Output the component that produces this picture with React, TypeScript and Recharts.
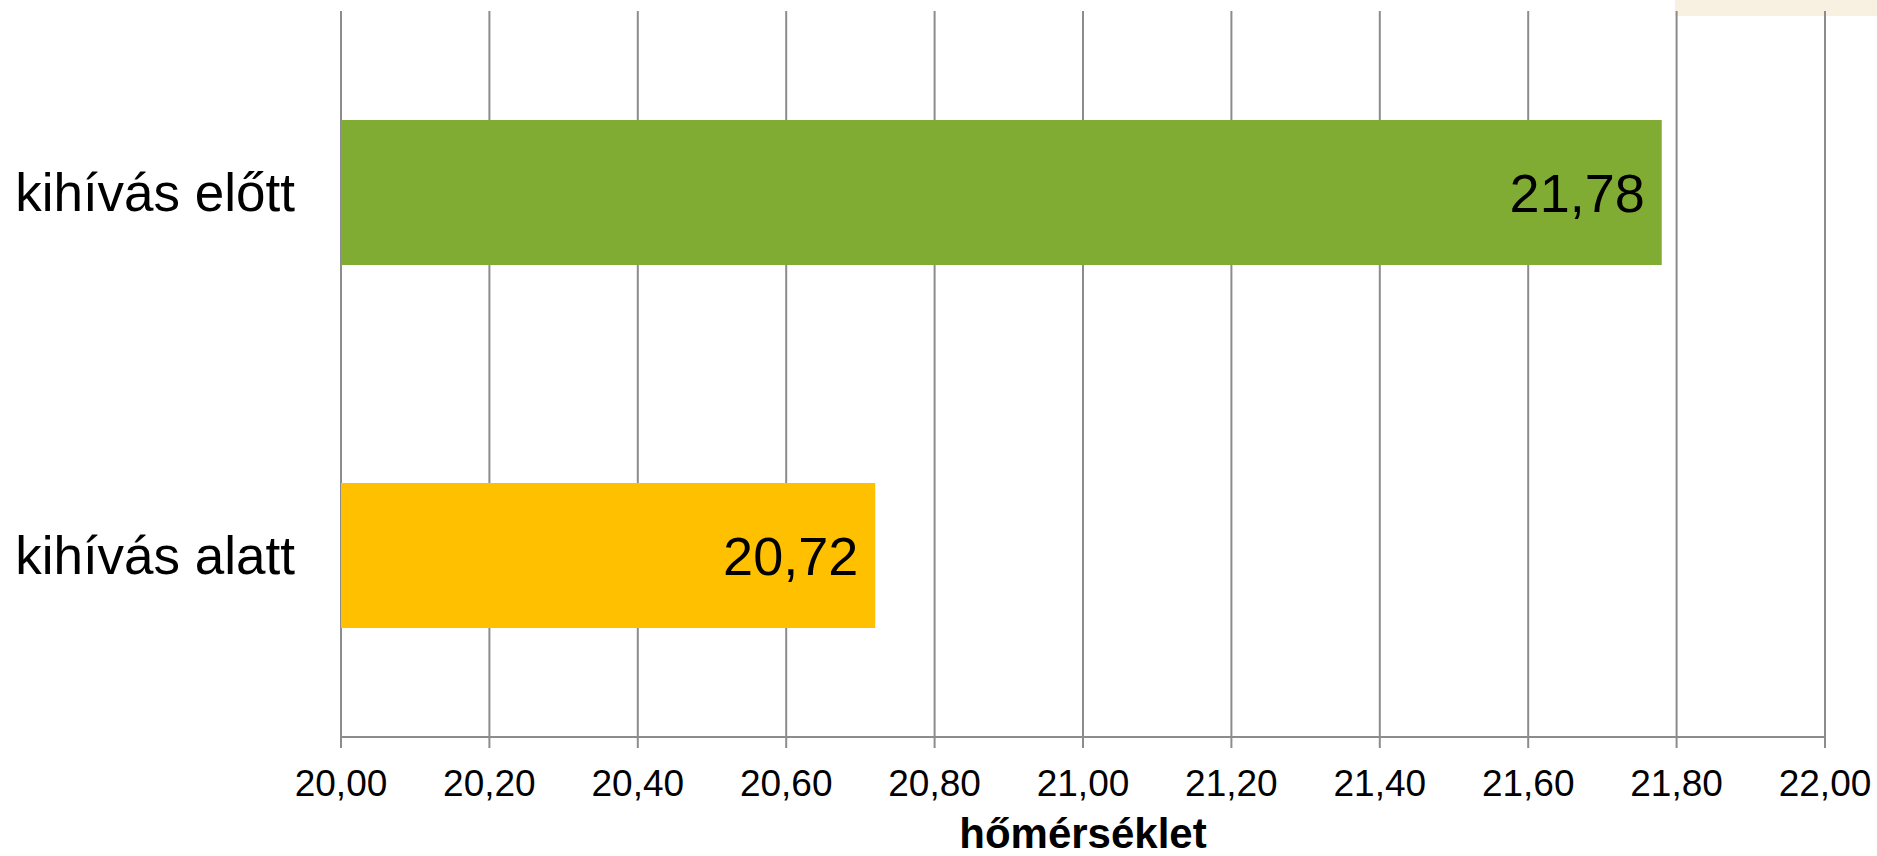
import React from 'react';
import { BarChart, Bar, XAxis, YAxis, CartesianGrid, Cell, LabelList } from 'recharts';

const categories = ['kihívás előtt', 'kihívás alatt'];
const values = [21.78, 20.72];
const barColors = ['#80AC34', '#FFC000'];
const xTicks = [20, 20.2, 20.4, 20.6, 20.8, 21, 21.2, 21.4, 21.6, 21.8, 22];
const xTitle = 'hőmérséklet';

const data = categories.map((name, i) => ({ name, value: values[i] }));

const FONT = '"Liberation Sans", Arial, sans-serif';
const GRID = '#8c8c8c';

// comma decimal, 2 places
const fmt = (v: number) => Number(v).toFixed(2).replace('.', ',');

const App: React.FC = () => {
  return (
    <div style={{ position: 'absolute', left: 0, top: 0, width: 1877, height: 856, background: '#fff', fontFamily: FONT }}>
      <div style={{ position: 'absolute', left: 1675, top: 0, width: 202, height: 16, background: '#F8F0E0' }} />
      <BarChart
        width={1877}
        height={856}
        data={data}
        layout="vertical"
        margin={{ top: 11, right: 52, left: 0, bottom: 0 }}
        barCategoryGap="30%"
      >
        <CartesianGrid horizontal={false} vertical stroke={GRID} strokeWidth={2} />
        <XAxis
          type="number"
          domain={[20, 22]}
          ticks={xTicks}
          tickFormatter={fmt}
          height={119}
          interval={0}
          axisLine={{ stroke: GRID, strokeWidth: 2 }}
          tickLine={{ stroke: GRID, strokeWidth: 2 }}
          tickSize={11}
          tickMargin={22}
          tick={{ fontSize: 37, fill: '#000', fontFamily: FONT }}
          label={{
            content: (props: any) => {
              const vb = props.viewBox;
              return (
                <text
                  x={vb.x + vb.width / 2}
                  y={vb.y + 111}
                  textAnchor="middle"
                  fontSize={42}
                  fontWeight="bold"
                  fontFamily={FONT}
                  fill="#000"
                >
                  {xTitle}
                </text>
              );
            },
          }}
        />
        <YAxis
          type="category"
          dataKey="name"
          width={341}
          axisLine={false}
          tickLine={false}
          tickSize={0}
          tickMargin={46}
          tick={{ fontSize: 53, fill: '#000', fontFamily: FONT }}
        />
        <Bar dataKey="value" isAnimationActive={false}>
          {data.map((d, i) => (
            <Cell key={d.name} fill={barColors[i]} />
          ))}
          <LabelList
            dataKey="value"
            position="insideRight"
            offset={17}
            formatter={(v: any) => fmt(v)}
            style={{ fontSize: 54, fill: '#000', fontFamily: FONT }}
          />
        </Bar>
      </BarChart>
    </div>
  );
};

export default App;
